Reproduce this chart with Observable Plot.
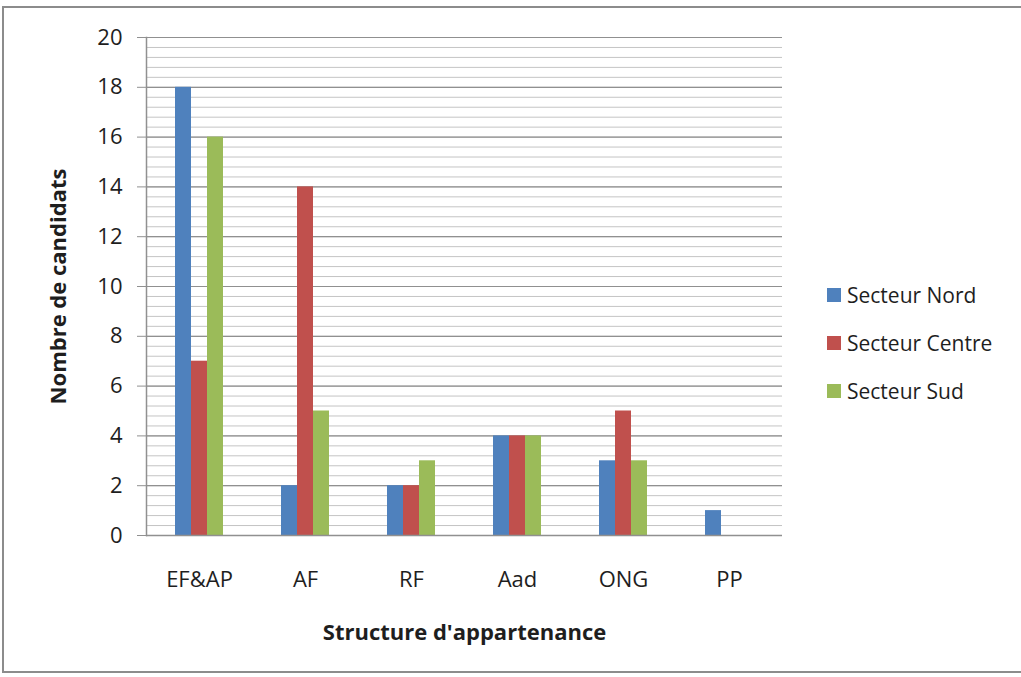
<!DOCTYPE html>
<html>
<head>
<meta charset="utf-8">
<script src="https://cdn.jsdelivr.net/npm/d3@7"></script>
<script src="https://cdn.jsdelivr.net/npm/@observablehq/plot@0.6"></script>
<style>
  html, body { margin: 0; padding: 0; background: #fff; }
  #wrap { position: relative; width: 1021px; height: 677px; overflow: hidden; font-family: "Open Sans", sans-serif; }
  #border { position: absolute; left: 2px; top: 6px; width: 1030px; height: 667px; border: 2px solid #8c8c8c; box-sizing: border-box; pointer-events: none; }
  #legend { position: absolute; left: 827px; top: 281px; }
  .lg-swatch { margin-bottom: 19px !important; }
  .lg-swatch > svg { margin-right: 6px !important; }
  g[aria-label$="axis label"] text { font-weight: bold; }
</style>
</head>
<body>
<div id="wrap"><div id="border"></div><div id="chart"></div><div id="legend"></div></div>
<script>
const categories = ["EF&AP", "AF", "RF", "Aad", "ONG", "PP"];
const series = ["Secteur Nord", "Secteur Centre", "Secteur Sud"];
const nord = [18, 2, 2, 4, 3, 1];
const centre = [7, 14, 2, 4, 5, 0];
const sud = [16, 5, 3, 4, 3, 0];
const colors = ["#4F81BD", "#C0504D", "#9BBB59"];
const yTicks = [0, 2, 4, 6, 8, 10, 12, 14, 16, 18, 20];
const minorStep = 0.4;

const values = [nord, centre, sud];
const data = [];
categories.forEach((c, i) => series.forEach((s, j) => data.push({cat: c, series: s, value: values[j][i]})));
const minorTicks = d3.range(0, 51).map(i => +(i * minorStep).toFixed(1));

const chart = Plot.plot({
  width: 1021,
  height: 677,
  marginLeft: 145,
  marginRight: 238,
  marginTop: 37,
  marginBottom: 142,
  style: {fontFamily: "'Open Sans', sans-serif", background: "transparent", color: "#1e1e1e"},
  fx: {domain: categories, padding: 0},
  x: {domain: series, paddingInner: 0, paddingOuter: 1.625, axis: null},
  y: {domain: [0, 20]},
  color: {domain: series, range: colors},
  marks: [
    Plot.gridY(minorTicks, {stroke: "#c4c4c4", strokeOpacity: 1, strokeWidth: 1}),
    Plot.gridY(yTicks, {stroke: "#909090", strokeOpacity: 1, strokeWidth: 1.2}),
    Plot.barY(data, {fx: "cat", x: "series", y: "value", fill: "series"}),
    Plot.ruleY([0], {stroke: "#909090", strokeWidth: 1.5}),
    Plot.frame({anchor: "left", facetAnchor: "left", stroke: "#909090", strokeWidth: 1.5}),
    Plot.axisY(yTicks, {
      anchor: "left", tickSize: 9, tickPadding: 15, fontSize: 22, stroke: "#909090", fill: "#1e1e1e",
      label: "Nombre de candidats", labelAnchor: "center", labelOffset: 96, labelArrow: "none"
    }),
    Plot.axisFx({
      anchor: "bottom", tickSize: 0, tickPadding: 36, fontSize: 22, fill: "#1e1e1e",
      label: "Structure d'appartenance", labelAnchor: "center", labelOffset: 104, labelArrow: "none"
    })
  ]
});
document.getElementById("chart").appendChild(chart);

const legend = Plot.legend({
  color: {domain: series, range: colors},
  legend: "swatches",
  columns: 1,
  swatchSize: 14,
  className: "lg",
  style: {fontSize: "21px", fontFamily: "'Open Sans', sans-serif", color: "#1e1e1e"}
});
document.getElementById("legend").appendChild(legend);
</script>
</body>
</html>
